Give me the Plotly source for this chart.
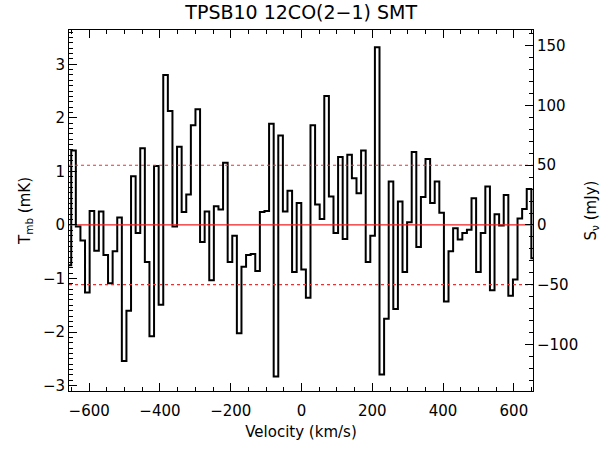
import plotly.graph_objects as go

# ---- data -------------------------------------------------------------
v_first_edge = -663.7      # km/s, left edge of first (clipped) channel
dv = 13.0                  # km/s, channel width
tmb = [
    -0.75,
    1.39, -0.03, -0.29, -1.26, 0.26, -0.48, 0.25, -0.56, -1.09, -0.49,
    0.14, -2.54, -1.60, 0.91, -0.15, 1.43, -0.69, -2.08, 1.10, -1.49,
    2.80, 2.13, -0.03, 1.46, 0.24, 0.57, 1.86, 2.16, -0.32, 0.25,
    -1.03, 0.35, 0.29, 1.16, -0.69, -0.20, -2.02, -0.78, -0.56, -0.54,
    -0.86, 0.24, 0.26, 1.89, -2.83, 1.67, 0.25, 0.64, -0.88, 0.41,
    -0.83, -1.36, 1.86, 0.38, 0.11, 2.41, 0.53, -0.15, 1.27, -0.26,
    1.31, 0.87, 0.59, 1.39, -0.69, -0.20, 3.32, -2.79, -1.75, 0.81,
    -1.57, 0.44, -0.88, 0.05, 1.36, -0.41, 0.52, 1.23, 0.41, 0.81,
    0.23, -1.43, -0.49, -0.06, -0.27, -0.15, -0.09, 0.50, -0.88, -0.15,
    0.72, -1.22, 0.20, -0.01, 0.56, -1.32, -1.02, 0.12, 0.30, 0.67,
    -0.62,
]  # mK
mjy_per_mk = 44.84
rms_mjy = 50.0
x_range = [-657, 654]
y_range = [-3.10, 3.64]

title = "TPSB10 12CO(2\u22121) SMT"
xlabel = "Velocity (km/s)"
ylabel_left = "T<sub>mb</sub> (mK)"
ylabel_right = "S<sub>\u03bd</sub> (mJy)"

# ---- build ------------------------------------------------------------
edges = [v_first_edge + dv * i for i in range(len(tmb) + 1)]
y_step = tmb + [tmb[-1]]
rms_mk = rms_mjy / mjy_per_mk

FONT = "DejaVu Sans"
fig = go.Figure()
fig.add_trace(go.Scatter(x=edges, y=y_step, mode="lines",
                         line=dict(color="black", width=2, shape="hv"),
                         showlegend=False, hoverinfo="skip"))
fig.add_trace(go.Scatter(x=x_range, y=[0, 0], mode="lines",
                         line=dict(color="#ee2020", width=1.2),
                         showlegend=False, hoverinfo="skip"))
for s in (1, -1):
    fig.add_trace(go.Scatter(x=x_range, y=[s * rms_mk, s * rms_mk], mode="lines",
                             line=dict(color="#ee3030", width=1.2, dash="dot"),
                             showlegend=False, hoverinfo="skip"))
# carrier trace for the secondary (top / right) axes
fig.add_trace(go.Scatter(x=[0], y=[0], xaxis="x2", yaxis="y2", mode="lines",
                         line=dict(width=0, color="rgba(0,0,0,0)"),
                         showlegend=False, hoverinfo="skip"))

tickfont = dict(family=FONT, size=15, color="black")
common = dict(showgrid=False, zeroline=False, showline=True, linecolor="black",
              linewidth=1, ticks="inside", tickcolor="black", tickwidth=1,
              tickfont=tickfont)

fig.update_layout(
    width=611, height=450,
    margin=dict(l=69, r=78, t=30, b=57),
    paper_bgcolor="white", plot_bgcolor="white",
    font=dict(family=FONT, size=15, color="black"),
    title=dict(text=title, x=0.493, xanchor="center", y=0.973, yanchor="middle",
               font=dict(family=FONT, size=19, color="black")),
    xaxis=dict(range=x_range, dtick=200, tick0=0, ticklen=8, ticklabelstandoff=6,
               minor=dict(dtick=50, ticklen=4, ticks="inside", tickcolor="black"),
               title=dict(text=xlabel, font=dict(family=FONT, size=15), standoff=7),
               **common),
    xaxis2=dict(range=x_range, overlaying="x", side="top", anchor="y",
                dtick=200, tick0=0, ticklen=8, showticklabels=False,
                minor=dict(dtick=50, ticklen=4, ticks="inside", tickcolor="black"),
                **common),
    yaxis=dict(range=y_range, dtick=1, tick0=0, ticklen=8,
               minor=dict(dtick=0.1, ticklen=4, ticks="inside", tickcolor="black"),
               title=dict(text=ylabel_left, font=dict(family=FONT, size=15), standoff=8),
               **common),
    yaxis2=dict(range=[y_range[0] * mjy_per_mk, y_range[1] * mjy_per_mk],
                overlaying="y", side="right", anchor="x",
                dtick=50, tick0=0, ticklen=8,
                minor=dict(dtick=10, ticklen=4, ticks="inside", tickcolor="black"),
                title=dict(text=ylabel_right, font=dict(family=FONT, size=15), standoff=8),
                **common),
)

fig.write_html("out.html")
